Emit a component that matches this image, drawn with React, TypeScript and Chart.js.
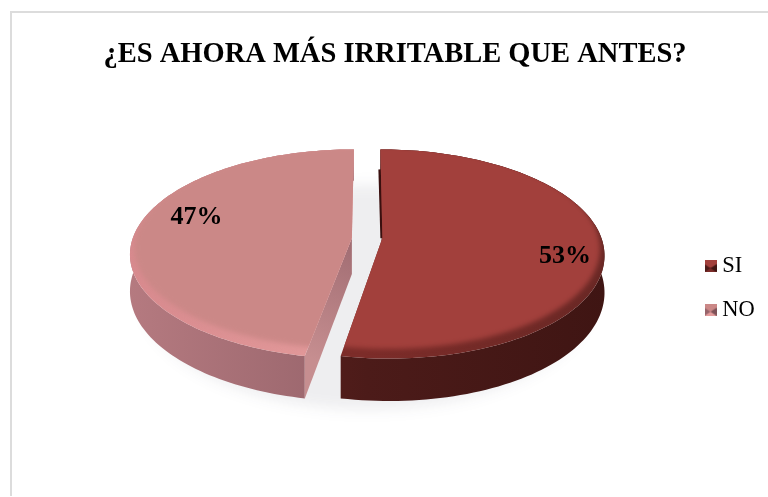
import React, { useEffect, useRef } from "react";
import { Chart, registerables } from "chart.js";

Chart.register(...registerables);

const titleText = "¿ES AHORA MÁS IRRITABLE QUE ANTES?";
const categories = ["SI", "NO"];
const shares = [53, 47];
const faceColors = ["#A2403C", "#CB8887"];
const bevelStops = [
  ["#7E2D2A", "#7C2C29", "#6A2825"],
  ["#D88A8E", "#E49C9C", "#D89494"],
];
const wallStops = [
  ["#6C2724", "#4C1B19", "#3F1513"],
  ["#B57A80", "#96636A", "#7E5258"],
];
const cutWallStops = [
  ["#3A100F", "#3A100F"],
  ["#A06C72", "#C68E90"],
];
// Nudges each percentage from its slice's mid-angle anchor
const labelNudge = [
  [6, 10],
  [17, -13],
];

// Tilted-disc projection parameters
const FONT = '"Liberation Serif", "Times New Roman", serif';
const PERSPECTIVE = 0.152;
const STRETCH_X = 1.533;
const STRETCH_Y = 0.715;
const FRONT_SKEW = 4;
const DEPTH = 36;
const PIE_SHIFT_X = 10;
const LABEL_RADIUS = 0.8;
const LEGEND_LEFT = 689;
const LEGEND_DROP = 95;

type Slice = {
  start: number;
  end: number;
  project: (angle: number, rho: number, drop?: number) => [number, number];
  projectRaw: (c: number, s: number, drop?: number) => [number, number];
  width: number;
  cx: number;
};

function slicesOf(chart: any): Slice[] {
  const arcs = chart.getDatasetMeta(0).data;
  return arcs.map((arc: any) => {
    const R = arc.outerRadius;
    const mid = (arc.startAngle + arc.endAngle) / 2;
    const shift = arc.options.offset * Math.cos(mid) * STRETCH_X;
    const cx = arc.x + PIE_SHIFT_X;
    const cy = arc.y;
    const projectRaw = (c: number, s: number, drop = 0): [number, number] => {
      const w = 1 - PERSPECTIVE * s;
      const skew = FRONT_SKEW * Math.max(0, s) ** 2;
      return [cx + skew + (shift + R * STRETCH_X * c) / w, cy + (R * STRETCH_Y * s + drop) / w];
    };
    const project = (angle: number, rho: number, drop = 0) =>
      projectRaw(rho * Math.cos(angle), rho * Math.sin(angle), drop);
    return { start: arc.startAngle, end: arc.endAngle, project, projectRaw, width: R * STRETCH_X, cx };
  });
}

function traceArc(ctx: CanvasRenderingContext2D, s: Slice, rho: number, drop: number, reverse = false) {
  const steps = 120;
  for (let i = 0; i <= steps; i++) {
    const t = reverse ? 1 - i / steps : i / steps;
    const [x, y] = s.project(s.start + (s.end - s.start) * t, rho, drop);
    ctx.lineTo(x, y);
  }
}

function tracedFace(ctx: CanvasRenderingContext2D, s: Slice) {
  ctx.beginPath();
  const [ax, ay] = s.project(0, 0);
  ctx.moveTo(ax, ay);
  traceArc(ctx, s, 1, 0);
  ctx.closePath();
}

function horizontalGradient(ctx: CanvasRenderingContext2D, s: Slice, stops: string[]) {
  const g = ctx.createLinearGradient(s.cx - s.width - 20, 0, s.cx + s.width + 20, 0);
  stops.forEach((c, i) => g.addColorStop(i / (stops.length - 1), c));
  return g;
}

const pie3d = {
  id: "pie3d",
  afterLayout(chart: any) {
    chart.legend.left = LEGEND_LEFT;
    chart.legend.top += LEGEND_DROP;
    chart.legend.bottom += LEGEND_DROP;
  },
  beforeDraw(chart: any) {
    const { ctx, width, height } = chart;
    ctx.save();
    ctx.fillStyle = "#DCDCDC";
    ctx.fillRect(10, 11, width - 10, 2);
    ctx.fillRect(10, 11, 2, height - 12);
    ctx.restore();
  },
  beforeDatasetsDraw(chart: any) {
    const { ctx } = chart;
    const slices = slicesOf(chart);

    // Soft ground shadow under the whole disc
    ctx.save();
    ctx.filter = "blur(7px)";
    ctx.fillStyle = "rgba(40,40,60,0.08)";
    const first = slices[0];
    ctx.beginPath();
    for (let i = 0; i <= 180; i++) {
      const a = (i / 180) * Math.PI * 2;
      const w = 1 - PERSPECTIVE * Math.sin(a);
      const x = first.cx + (first.width * 1.01 * Math.cos(a)) / w;
      const [, y] = first.project(a, 1.01, DEPTH + 6);
      ctx.lineTo(x, y);
    }
    ctx.closePath();
    ctx.fill();
    ctx.restore();

    slices.forEach((s, i) => {
      // Rounded outer wall
      ctx.beginPath();
      traceArc(ctx, s, 1, 0);
      traceArc(ctx, s, 1, DEPTH, true);
      ctx.closePath();
      ctx.fillStyle = horizontalGradient(ctx, s, wallStops[i]);
      ctx.fill();

      // Flat wall exposed by the cut at the slice's starting edge
      const [ax, ay] = s.project(0, 0);
      const [ex, ey] = s.project(s.start, 1);
      const [bx, by] = s.project(0, 0, DEPTH);
      const [fx, fy] = s.project(s.start, 1, DEPTH);
      const cut = ctx.createLinearGradient(ax, ay, ex, ey);
      cut.addColorStop(0, cutWallStops[i][0]);
      cut.addColorStop(1, cutWallStops[i][1]);
      ctx.beginPath();
      ctx.moveTo(ax, ay);
      ctx.lineTo(ex, ey);
      ctx.lineTo(fx, fy);
      ctx.lineTo(bx, by);
      ctx.closePath();
      ctx.fillStyle = cut;
      ctx.fill();
      if (i === 0) {
        ctx.beginPath();
        ctx.moveTo(ex - 0.5, ey + 20);
        ctx.lineTo(ax - 0.5, ay);
        ctx.strokeStyle = cutWallStops[i][0];
        ctx.lineWidth = 3;
        ctx.stroke();
      }

      // Top face: bevel band under a softly blurred flat centre
      ctx.save();
      tracedFace(ctx, s);
      ctx.clip();
      ctx.fillStyle = horizontalGradient(ctx, s, bevelStops[i]);
      ctx.fillRect(0, 0, chart.width, chart.height);
      ctx.filter = "blur(2.5px)";
      ctx.fillStyle = faceColors[i];
      ctx.beginPath();
      for (let k = 0; k <= 180; k++) {
        const a = (k / 180) * Math.PI * 2;
        const [x, y] = s.projectRaw(0.99 * Math.cos(a), 0.99 * Math.sin(a) - 0.06);
        ctx.lineTo(x, y);
      }
      ctx.closePath();
      ctx.fill();
      ctx.restore();
    });
    return false;
  },
  afterDraw(chart: any) {
    const { ctx } = chart;
    slicesOf(chart).forEach((s, i) => {
      const [x, y] = s.project((s.start + s.end) / 2, LABEL_RADIUS);
      ctx.save();
      ctx.font = `bold 26px ${FONT}`;
      ctx.fillStyle = "#000000";
      ctx.textAlign = "center";
      ctx.textBaseline = "middle";
      ctx.fillText(`${shares[i]}%`, x + labelNudge[i][0], y + labelNudge[i][1]);
      ctx.restore();
    });
  },
};

// Small bevelled square used as a legend key
function legendKey(index: number): HTMLCanvasElement {
  const size = 12;
  const c = document.createElement("canvas");
  c.width = size;
  c.height = size;
  const g = c.getContext("2d") as CanvasRenderingContext2D;
  g.fillStyle = faceColors[index];
  g.fillRect(0, 0, size, size);
  const mid = size / 2;
  const tri = (pts: number[][], color: string) => {
    g.beginPath();
    pts.forEach(([x, y]) => g.lineTo(x, y));
    g.closePath();
    g.fillStyle = color;
    g.fill();
  };
  tri([[0, size], [size, size], [mid, mid + 1]], bevelStops[index][1]);
  tri([[0, 4], [0, size], [mid, mid + 2]], wallStops[index][1]);
  tri([[size, 4], [size, size], [mid, mid + 2]], wallStops[index][2]);
  return c;
}

export default function App() {
  const ref = useRef<HTMLCanvasElement | null>(null);

  useEffect(() => {
    const canvas = ref.current;
    if (!canvas) return;
    const chart = new Chart(canvas, {
      type: "pie",
      data: {
        labels: categories,
        datasets: [
          {
            data: shares,
            backgroundColor: faceColors,
            borderWidth: 0,
            offset: 10,
          },
        ],
      },
      options: {
        responsive: false,
        animation: false,
        layout: { padding: { left: 22, right: 0, top: 0, bottom: 111 } },
        plugins: {
          tooltip: { enabled: false },
          title: {
            display: true,
            text: titleText,
            color: "#000000",
            font: { family: FONT, size: 28.5, weight: "bold" },
            padding: { top: 38, bottom: 18 },
          },
          legend: {
            display: true,
            position: "right",
            labels: {
              font: { family: FONT, size: 22.5 },
              color: "#000000",
              usePointStyle: true,
              boxWidth: 1,
              boxHeight: 1,
              padding: 21,
              generateLabels: () =>
                categories.map((text, index) => ({
                  text,
                  index,
                  hidden: false,
                  fillStyle: faceColors[index],
                  strokeStyle: faceColors[index],
                  lineWidth: 0,
                  fontColor: "#000000",
                  pointStyle: legendKey(index),
                })),
            },
          },
        },
      },
      plugins: [pie3d],
    } as any);
    return () => chart.destroy();
  }, []);

  return (
    <div style={{ position: "absolute", left: 0, top: 0, width: 768, height: 497, overflow: "hidden", background: "#FFFFFF" }}>
      <canvas ref={ref} width={768} height={497} style={{ display: "block" }} />
    </div>
  );
}
